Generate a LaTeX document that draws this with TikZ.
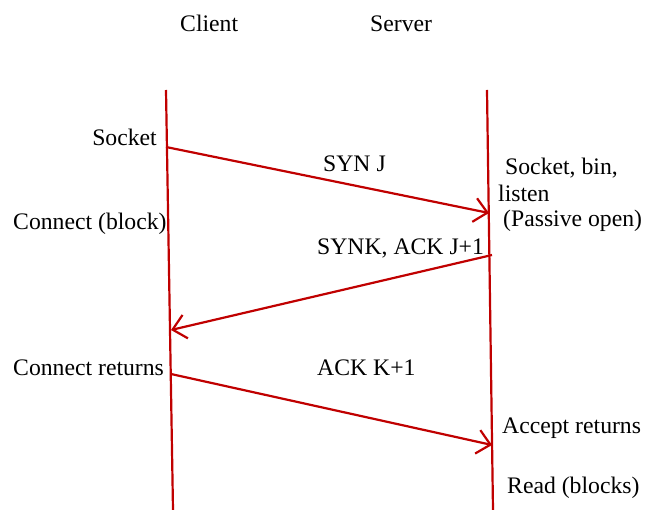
\documentclass[tikz,border=0pt]{standalone}
\usepackage{fontspec}
\setmainfont{Liberation Serif}
\usetikzlibrary{arrows.meta}
\definecolor{lred}{HTML}{C00000}
\begin{document}
\begin{tikzpicture}[x=1pt,y=-1pt,
  lifeline/.style={draw=lred,line width=2.2pt},
  msg/.style={draw=lred,line width=2.2pt,-{Straight Barb[length=13pt,width=24pt,line width=2.2pt]}},
  lbl/.style={inner sep=0pt,anchor=base west,font=\fontsize{23.7}{28}\selectfont}]
\useasboundingbox (0,0) rectangle (656,510);
% lifelines
\coordinate (ctop) at (166,90);
\coordinate (cbot) at (173,510);
\coordinate (stop) at (487,90);
\coordinate (sbot) at (493,510);
\draw[lifeline] (ctop) -- (cbot);
\draw[lifeline] (stop) -- (sbot);
% message endpoints
\coordinate (a1) at (166,147);
\coordinate (b1) at (489,213);
\coordinate (a2) at (492,255);
\coordinate (b2) at (171,330);
\coordinate (a3) at (171,374);
\coordinate (b3) at (492,445);
\draw[msg] (a1) -- (b1);
\draw[msg] (a2) -- (b2);
\draw[msg] (a3) -- (b3);
% labels
\node[lbl] (client) at (180,32) {Client};
\node[lbl] (server) at (370,32) {Server};
\node[lbl,anchor=base east] (sock) at (157,146) {Socket};
\node[lbl] (conn) at (13,230) {Connect (block)};
\node[lbl] (synj) at (323,172) {SYN J};
\node[lbl] (sbin) at (505,175) {Socket, bin,};
\node[lbl] (listen) at (498,202) {listen};
\node[lbl] (passive) at (503,227) {(Passive open)};
\node[lbl] (synk) at (317,255) {SYNK, ACK J+1};
\node[lbl] (connret) at (13,376) {Connect returns};
\node[lbl] (ackk) at (317,376) {ACK K+1};
\node[lbl] (accret) at (502,433) {Accept returns};
\node[lbl] (read) at (507,493) {Read (blocks)};
\end{tikzpicture}
\end{document}
